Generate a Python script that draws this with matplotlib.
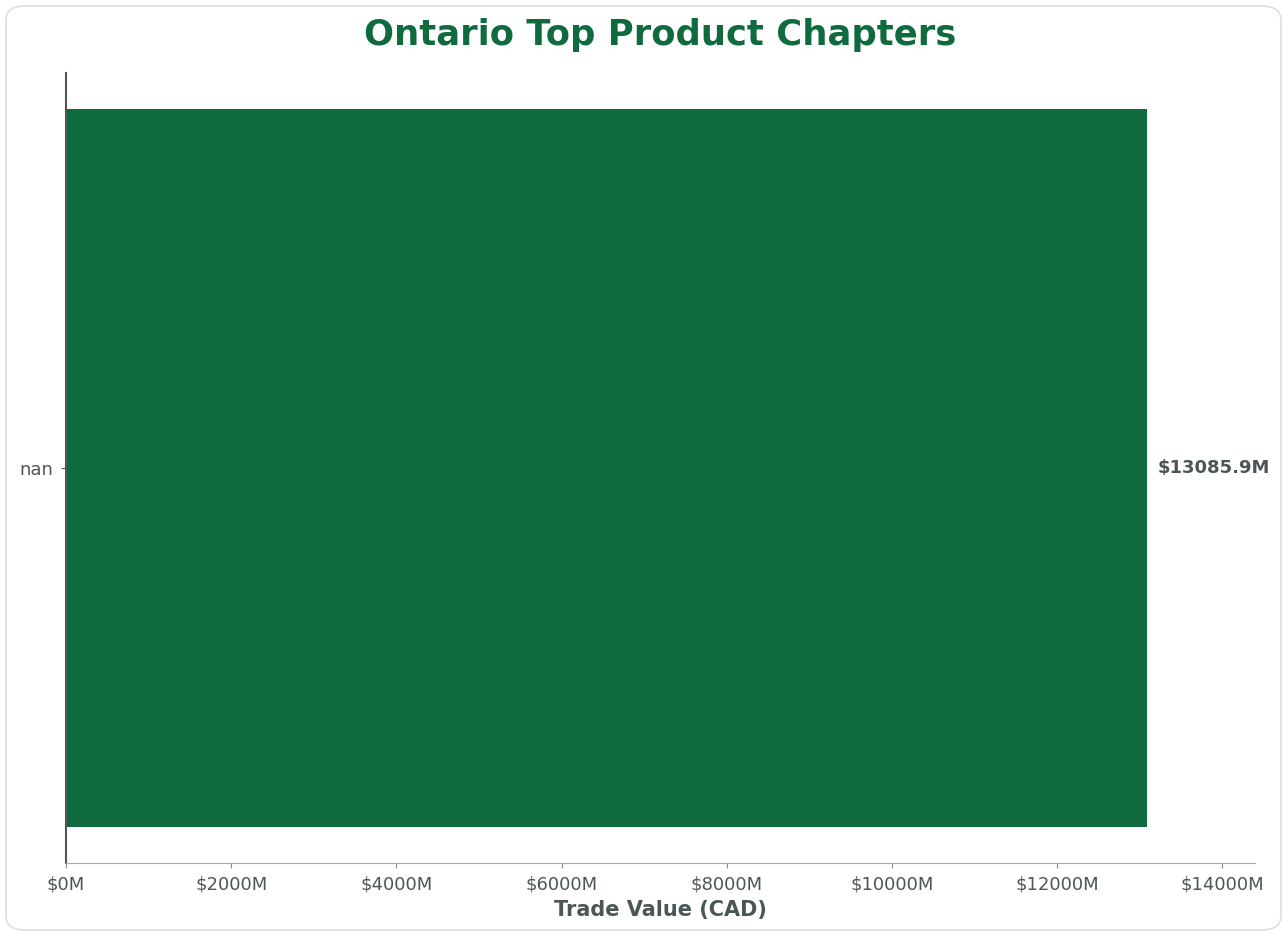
'''Ontario top product chapters - horizontal bar of trade value'''
import matplotlib
matplotlib.use('Agg')
import matplotlib.pyplot as plt
from matplotlib.patches import FancyBboxPatch
from matplotlib.ticker import FuncFormatter

chapters = ['nan']
values = [13085.9]  # trade value, millions CAD

green = '#0f6b3e'
txt = '#4d5656'

fig = plt.figure(figsize=(12.82, 9.31), dpi=100)
fig.patch.set_facecolor('white')

# rounded card border
card = FancyBboxPatch((6/1282, 1/931), 1275/1282, 924/931, boxstyle='round,pad=0,rounding_size=0.015',
                      transform=fig.transFigure, facecolor='white', edgecolor='#dedede', lw=1.2, zorder=-5)
fig.patches.append(card)

ax = fig.add_axes([66/1282, 1 - 863/931, (1255-66)/1282, (863-73)/931])
ax.set_zorder(2)
ax.set_facecolor('none')
ax.barh(chapters, values, color=green, height=0.8)
ax.set_xlim(0, max(values) * 1.1)

for i, v in enumerate(values):
    ax.annotate('$%.1fM' % v, (v, i), xytext=(7.5, 0), textcoords='offset points',
                va='center', ha='left', fontsize=13, fontweight='bold', color=txt)

ax.xaxis.set_major_formatter(FuncFormatter(lambda x, p: '$%dM' % x))
ax.set_xlabel('Trade Value (CAD)', fontsize=15, fontweight='bold', color=txt, labelpad=5)
ax.tick_params(axis='both', labelsize=13, colors=txt)
ax.tick_params(axis='x', color='#888888', pad=5.5)
ax.tick_params(axis='y', color='#555555', pad=6)
ax.spines['top'].set_visible(False)
ax.spines['right'].set_visible(False)
ax.spines['left'].set_color('#555555')
ax.spines['left'].set_linewidth(1.5)
ax.spines['bottom'].set_color('#aaaaaa')

fig.text(0.515, 1 - 35/931, 'Ontario Top Product Chapters', ha='center', va='center',
         fontsize=25.5, fontweight='bold', color=green)

plt.savefig('out.png', dpi=100)
